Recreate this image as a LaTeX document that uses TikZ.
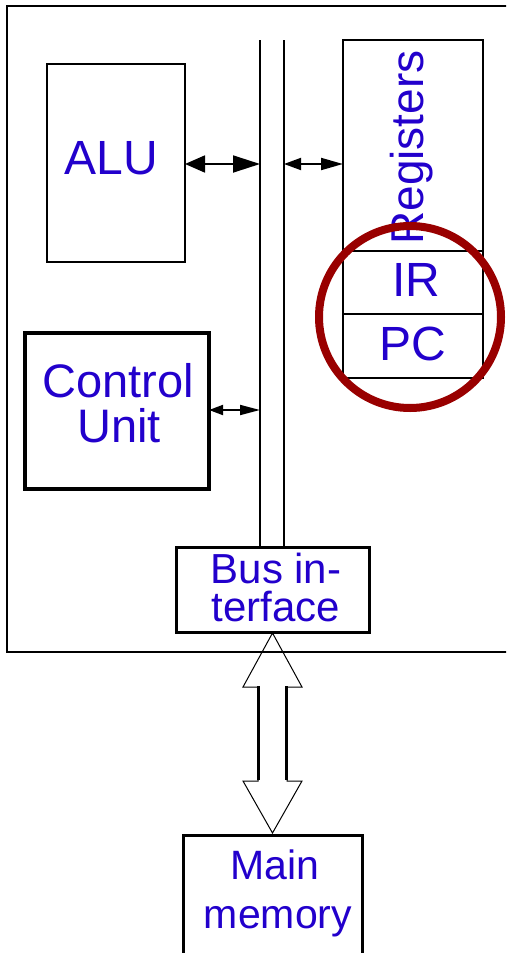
\documentclass[tikz,border=0pt]{standalone}
\usepackage{fontspec}
\setmainfont{Liberation Sans}
\usetikzlibrary{arrows.meta,fit}
\definecolor{txtblue}{RGB}{34,0,204}
\definecolor{circred}{RGB}{153,0,0}
\begin{document}
\begin{tikzpicture}[x=1pt,y=-1pt,
  boxframe/.style={draw, inner sep=0pt, outer sep=0pt},
  lbl/.style={text=txtblue, inner sep=0pt, anchor=base},
  busline/.style={line width=2pt},
  dblarrow/.style={line width=1.8pt}]
\clip (0,0) rectangle (506,953);
\useasboundingbox (0,0) rectangle (506,953);
% outer CPU box
\node[boxframe, line width=2pt, fit={(7,6) (530,652)}] (cpu) {};
% boxes
\node[boxframe, line width=1.5pt, fit={(47,64) (185,262)}] (alu) {};
\node[boxframe, line width=2pt, fit={(343,40) (483,378)}] (reg) {};
\node[boxframe, line width=4pt, fit={(25,333) (209,489)}] (cu) {};
\node[boxframe, line width=3pt, fit={(176,547) (369,632)}] (bi) {};
\node[boxframe, line width=3pt, fit={(183,835) (362,990)}] (mm) {};
% register dividers
\coordinate (d1) at (0,251);
\coordinate (d2) at (0,314);
\draw[line width=1.5pt] (reg.west |- d1) -- (reg.east |- d1);
\draw[line width=1.5pt] (reg.west |- d2) -- (reg.east |- d2);
% bus
\coordinate (bLt) at (260,40);
\coordinate (bRt) at (284,40);
\draw[busline] (bLt) -- (bLt |- bi.north);
\draw[busline] (bRt) -- (bRt |- bi.north);
% small arrows
\coordinate (a1) at (260,164);
\coordinate (a2) at (284,164);
\coordinate (a3) at (260,410);
\draw[dblarrow, {Triangle[length=20pt,width=17pt]}-{Triangle[length=27pt,width=17pt]}] (alu.east |- a1) -- (a1);
\draw[dblarrow, {Triangle[length=17pt,width=12pt]}-{Triangle[length=22pt,width=12pt]}] (a2) -- (reg.west |- a2);
\draw[dblarrow, {Triangle[length=14pt,width=10pt]}-{Triangle[length=20pt,width=10pt]}] (cu.east |- a3) -- (a3);
% big hollow double arrow
\draw[line width=1pt, line join=miter] ([yshift=-1pt]bi.south) -- ++(29.5,54) -- ++(-15,0) -- ++(0,94) -- ++(15,0)
   -- ++(-29.5,52) -- ++(-29.5,-52) -- ++(15,0) -- ++(0,-94) -- ++(-15,0) -- cycle;
\draw[line width=2.5pt] ([shift={(14,54)}]bi.south) -- ++(0,94);
\draw[line width=2.5pt] ([shift={(-14,54)}]bi.south) -- ++(0,94);
% labels
\node[lbl, font=\fontsize{48}{48}\selectfont] (taLU) at (111.5,174) {ALU};
\node[lbl, font=\fontsize{47}{47}\selectfont] (tcu1) at (118,397) {Control};
\node[lbl, font=\fontsize{47}{47}\selectfont] (tcu2) at (119,442) {Unit};
\node[lbl, font=\fontsize{46}{46}\selectfont, rotate=90] (treg) at (423,147.5) {Registers};
\node[lbl, font=\fontsize{48}{48}\selectfont] (tir) at (416.5,296) {IR};
\node[lbl, font=\fontsize{48}{48}\selectfont] (tpc) at (412.5,360) {PC};
\node[lbl, font=\fontsize{42}{42}\selectfont] (tbi1) at (276,583) {Bus in-};
\node[lbl, font=\fontsize{42}{42}\selectfont] (tbi2) at (276,621) {terface};
\node[lbl, font=\fontsize{41}{41}\selectfont] (tmm1) at (274.5,879) {Main};
\node[lbl, font=\fontsize{41}{41}\selectfont] (tmm2) at (278,928) {memory};
% highlight circle
\node[draw=circred, line width=8pt, circle, minimum size=182pt, inner sep=0pt] (circ) at (410,317) {};
\end{tikzpicture}
\end{document}
